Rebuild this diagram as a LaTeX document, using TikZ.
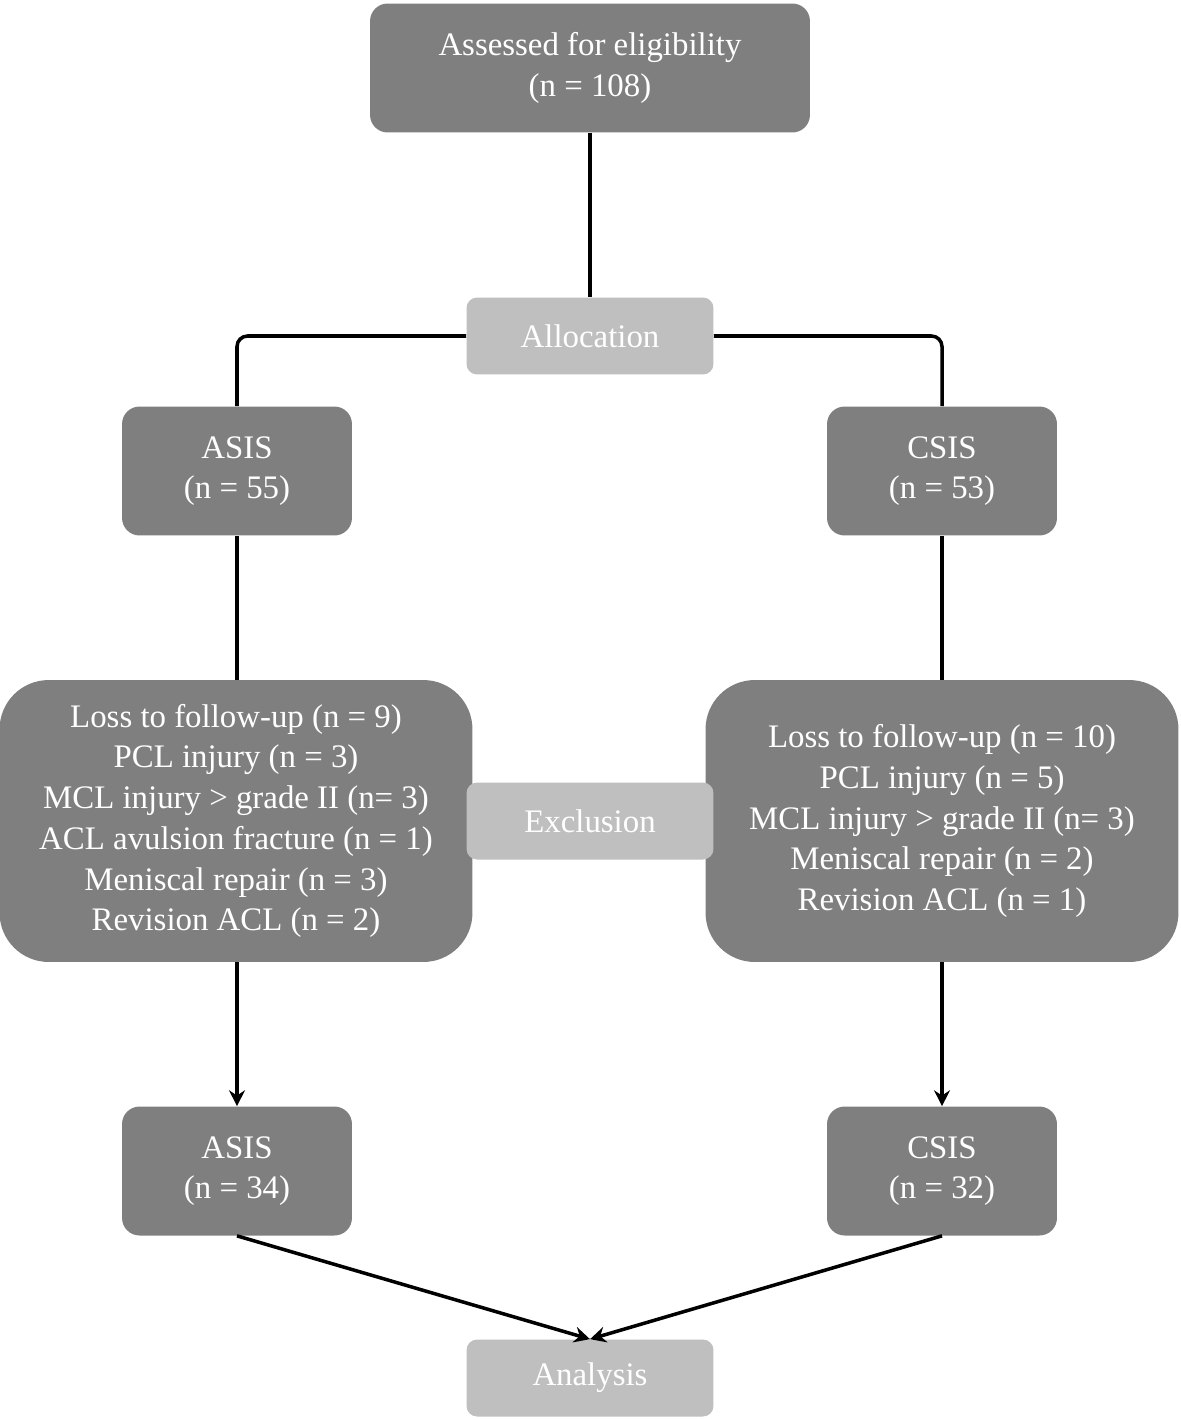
\documentclass[tikz,border=0pt]{standalone}
\usepackage{fontspec}
\setmainfont{Liberation Serif}
\usetikzlibrary{arrows.meta}

\definecolor{boxdark}{HTML}{7F7F7F}
\definecolor{boxlight}{HTML}{BFBFBF}

\tikzset{
  darkbox/.style={fill=boxdark, text=white, rounded corners=10pt, align=center,
    inner sep=0pt, font=\fontsize{18.7}{23.2}\selectfont},
  lightbox/.style={fill=boxlight, text=white, rounded corners=6pt, align=center,
    inner sep=0pt, minimum width=4.94cm, minimum height=1.54cm,
    font=\fontsize{18.7}{23.2}\selectfont},
  grpbox/.style={darkbox, minimum width=4.6cm, minimum height=2.58cm},
  exclbox/.style={darkbox, rounded corners=28pt, minimum width=9.46cm, minimum height=5.64cm},
  link/.style={line width=2pt},
  >={Stealth[length=9pt,width=9pt]}
}

\begin{document}
\begin{tikzpicture}[x=0.02cm,y=-0.02cm]
\useasboundingbox (0,0) rectangle (1180,1420);

\node[darkbox, minimum width=8.8cm, minimum height=2.58cm] (assess) at (590,68) {Assessed for eligibility\\(n = 108)};
\node[lightbox] (alloc) at (590,336) {Allocation};

\node[grpbox] (asis_a) at (237,471) {ASIS\\(n = 55)};
\node[grpbox] (csis_a) at (942,471) {CSIS\\(n = 53)};

\node[exclbox] (excl_l) at (236,821) {Loss to follow-up (n = 9)\\PCL injury (n = 3)\\MCL injury > grade II (n= 3)\\ACL avulsion fracture (n = 1)\\Meniscal repair (n = 3)\\Revision ACL (n = 2)};
\node[exclbox] (excl_r) at (942,821) {Loss to follow-up (n = 10)\\PCL injury (n = 5)\\MCL injury > grade II (n= 3)\\Meniscal repair (n = 2)\\Revision ACL (n = 1)};
\node[lightbox] (excl) at (590,821) {Exclusion};

\node[grpbox] (asis_b) at (237,1171) {ASIS\\(n = 34)};
\node[grpbox] (csis_b) at (942,1171) {CSIS\\(n = 32)};
\node[lightbox] (analysis) at (590,1378) {Analysis};

%\draw [link] (assess) -- (alloc);
\draw [link] (assess.south) -- (alloc.north);
\draw [link, rounded corners=6pt] (alloc.west) -| (asis_a.north);
\draw [link, rounded corners=6pt] (alloc.east) -| (csis_a.north);

\draw [link] (asis_a.south) -- (excl_l.north -| asis_a.south);
\draw [link] (csis_a.south) -- (excl_r.north -| csis_a.south);

\draw [link, ->] (excl_l.south -| asis_b.north) -- (asis_b.north);
\draw [link, ->] (excl_r.south -| csis_b.north) -- (csis_b.north);

\draw [link, ->] (asis_b.south) -- (analysis.north);
\draw [link, ->] (csis_b.south) -- (analysis.north);

\end{tikzpicture}
\end{document}
